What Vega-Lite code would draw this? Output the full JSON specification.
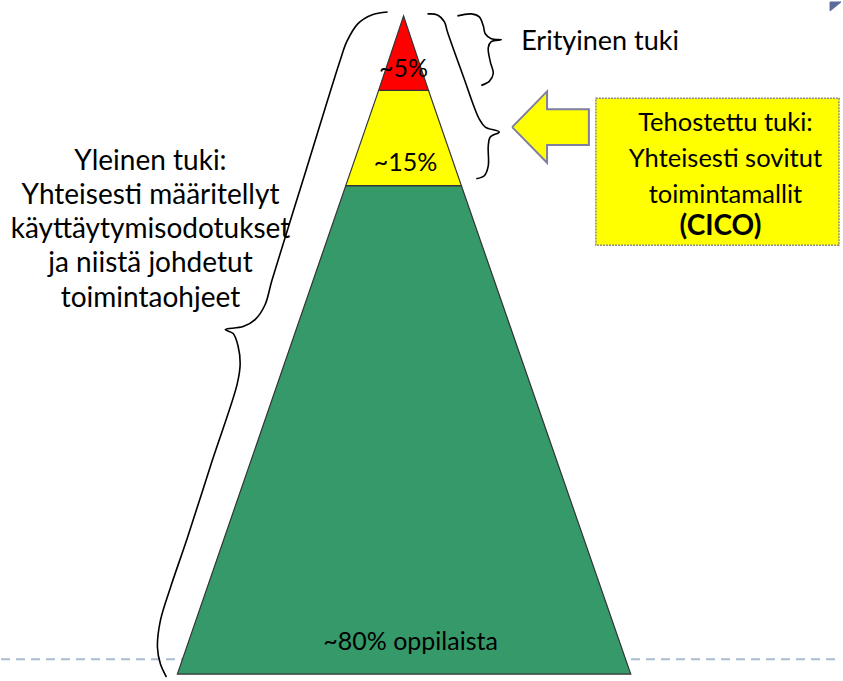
{
  "$schema": "https://vega.github.io/schema/vega-lite/v6.json",
  "width": 843,
  "height": 681,
  "autosize": {"type": "fit", "contains": "padding"},
  "padding": 0,
  "background": "white",
  "config": {"view": {"stroke": null}},
  "datasets": {
    "baseline": [{"y": 662, "x": 0, "x2": 843}],
    "pyramid": [
      {"band": "green", "y": 185, "x": 346, "x2": 462},
      {"band": "green", "y": 677, "x": 177, "x2": 632},
      {"band": "yellow", "y": 89, "x": 379, "x2": 429},
      {"band": "yellow", "y": 185, "x": 346, "x2": 462},
      {"band": "red", "y": 14, "x": 404, "x2": 404},
      {"band": "red", "y": 89, "x": 379, "x2": 429}
    ],
    "braces": [
      {"b": "L", "i": 1, "x": 388, "y": 10},
      {"b": "L", "i": 2, "x": 372, "y": 13},
      {"b": "L", "i": 3, "x": 358, "y": 22},
      {"b": "L", "i": 4, "x": 347, "y": 40},
      {"b": "L", "i": 5, "x": 340, "y": 60},
      {"b": "L", "i": 6, "x": 306, "y": 170},
      {"b": "L", "i": 7, "x": 272, "y": 280},
      {"b": "L", "i": 8, "x": 265, "y": 305},
      {"b": "L", "i": 9, "x": 255, "y": 320},
      {"b": "L", "i": 10, "x": 243, "y": 327},
      {"b": "L", "i": 11, "x": 225, "y": 330},
      {"b": "L", "i": 12, "x": 233, "y": 334},
      {"b": "L", "i": 13, "x": 238, "y": 347},
      {"b": "L", "i": 14, "x": 240, "y": 365},
      {"b": "L", "i": 15, "x": 237, "y": 385},
      {"b": "L", "i": 16, "x": 212, "y": 462},
      {"b": "L", "i": 17, "x": 187, "y": 540},
      {"b": "L", "i": 18, "x": 170, "y": 590},
      {"b": "L", "i": 19, "x": 160, "y": 623},
      {"b": "L", "i": 20, "x": 157, "y": 650},
      {"b": "L", "i": 21, "x": 160, "y": 667},
      {"b": "L", "i": 22, "x": 166, "y": 680},
      {"b": "M", "i": 1, "x": 428, "y": 12},
      {"b": "M", "i": 2, "x": 438, "y": 13},
      {"b": "M", "i": 3, "x": 445, "y": 20},
      {"b": "M", "i": 4, "x": 448, "y": 30},
      {"b": "M", "i": 5, "x": 464, "y": 75},
      {"b": "M", "i": 6, "x": 480, "y": 118},
      {"b": "M", "i": 7, "x": 486, "y": 126},
      {"b": "M", "i": 8, "x": 500, "y": 131},
      {"b": "M", "i": 9, "x": 491, "y": 136},
      {"b": "M", "i": 10, "x": 489, "y": 145},
      {"b": "M", "i": 11, "x": 489, "y": 165},
      {"b": "M", "i": 12, "x": 485, "y": 175},
      {"b": "M", "i": 13, "x": 477, "y": 178},
      {"b": "S", "i": 1, "x": 458, "y": 14},
      {"b": "S", "i": 2, "x": 472, "y": 12},
      {"b": "S", "i": 3, "x": 480, "y": 15},
      {"b": "S", "i": 4, "x": 484, "y": 24},
      {"b": "S", "i": 5, "x": 486, "y": 32},
      {"b": "S", "i": 6, "x": 492, "y": 37},
      {"b": "S", "i": 7, "x": 502, "y": 38},
      {"b": "S", "i": 8, "x": 492, "y": 40},
      {"b": "S", "i": 9, "x": 489, "y": 46},
      {"b": "S", "i": 10, "x": 491, "y": 60},
      {"b": "S", "i": 11, "x": 494, "y": 72},
      {"b": "S", "i": 12, "x": 490, "y": 80},
      {"b": "S", "i": 13, "x": 482, "y": 84}
    ],
    "arrow": [
      {"i": 1, "x": 513, "y": 126},
      {"i": 2, "x": 548, "y": 90},
      {"i": 3, "x": 548, "y": 108},
      {"i": 4, "x": 590, "y": 108},
      {"i": 5, "x": 590, "y": 144},
      {"i": 6, "x": 548, "y": 144},
      {"i": 7, "x": 548, "y": 162},
      {"i": 8, "x": 513, "y": 126}
    ],
    "corner": [
      {"i": 1, "x": 832, "y": 0},
      {"i": 2, "x": 843, "y": 0},
      {"i": 3, "x": 832, "y": 9},
      {"i": 4, "x": 832, "y": 0}
    ],
    "box": [{"x": 597, "x2": 841, "y": 97, "y2": 245}],
    "labelsBox": [
      {"t": "Tehostettu tuki:", "x": 727, "y": 130},
      {"t": "Yhteisesti sovitut", "x": 727, "y": 166},
      {"t": "toimintamallit", "x": 727, "y": 202}
    ],
    "labelsLeftBlock": [
      {"t": "Yleinen tuki:", "x": 150, "y": 169},
      {"t": "Yhteisesti määritellyt", "x": 150, "y": 203},
      {"t": "käyttäytymisodotukset", "x": 150, "y": 238},
      {"t": "ja niistä johdetut", "x": 150, "y": 272},
      {"t": "toimintaohjeet", "x": 150, "y": 307}
    ],
    "labelsPyramid": [
      {"t": "~5%", "x": 404, "y": 76},
      {"t": "~15%", "x": 406, "y": 170},
      {"t": "~80% oppilaista", "x": 411, "y": 653}
    ],
    "labelsBold": [{"t": "(CICO)", "x": 722, "y": 235}],
    "labelsLeft": [{"t": "Erityinen tuki", "x": 522, "y": 48}]
  },
  "layer": [
    {
      "data": {"name": "baseline"},
      "mark": {"type": "rule", "color": "#a9bcd0", "strokeWidth": 2, "strokeDash": [9, 6]},
      "encoding": {
        "x": {"field": "x", "type": "quantitative", "scale": {"domain": [0, 843], "nice": false, "zero": false}, "axis": null},
        "x2": {"field": "x2"},
        "y": {"field": "y", "type": "quantitative", "scale": {"domain": [0, 681], "nice": false, "zero": false, "reverse": true}, "axis": null}
      }
    },
    {
      "data": {"name": "pyramid"},
      "mark": {"type": "area", "orient": "horizontal", "stroke": "#333333", "strokeWidth": 1.2, "opacity": 1, "fillOpacity": 1},
      "encoding": {
        "y": {"field": "y", "type": "quantitative", "axis": null},
        "x": {"field": "x", "type": "quantitative", "stack": null, "axis": null},
        "x2": {"field": "x2"},
        "fill": {"field": "band", "type": "nominal", "scale": {"domain": ["red", "yellow", "green"], "range": ["#ff0000", "#ffff00", "#35996a"]}, "legend": null},
        "detail": {"field": "band"}
      }
    },
    {
      "data": {"name": "braces"},
      "mark": {"type": "line", "color": "#000000", "strokeWidth": 1.6, "interpolate": "catmull-rom"},
      "encoding": {
        "x": {"field": "x", "type": "quantitative", "axis": null},
        "y": {"field": "y", "type": "quantitative", "axis": null},
        "detail": {"field": "b"},
        "order": {"field": "i", "type": "quantitative"}
      }
    },
    {
      "data": {"name": "arrow"},
      "mark": {"type": "line", "fill": "#ffff00", "stroke": "#7f80a0", "strokeWidth": 2, "strokeJoin": "miter"},
      "encoding": {
        "x": {"field": "x", "type": "quantitative", "axis": null},
        "y": {"field": "y", "type": "quantitative", "axis": null},
        "order": {"field": "i", "type": "quantitative"}
      }
    },
    {
      "data": {"name": "corner"},
      "mark": {"type": "line", "fill": "#5a6a9c", "stroke": "#5a6a9c", "strokeWidth": 1},
      "encoding": {
        "x": {"field": "x", "type": "quantitative", "axis": null},
        "y": {"field": "y", "type": "quantitative", "axis": null},
        "order": {"field": "i", "type": "quantitative"}
      }
    },
    {
      "data": {"name": "box"},
      "mark": {"type": "rect", "fill": "#ffff00", "stroke": "#8a8a8a", "strokeWidth": 1.5, "strokeDash": [2, 1]},
      "encoding": {
        "x": {"field": "x", "type": "quantitative", "axis": null},
        "x2": {"field": "x2"},
        "y": {"field": "y", "type": "quantitative", "axis": null},
        "y2": {"field": "y2"}
      }
    },
    {
      "data": {"name": "labelsBox"},
      "mark": {"type": "text", "font": "Lato", "fontSize": 25.5, "align": "center", "baseline": "alphabetic", "color": "#000000"},
      "encoding": {
        "x": {"field": "x", "type": "quantitative", "axis": null},
        "y": {"field": "y", "type": "quantitative", "axis": null},
        "text": {"field": "t"}
      }
    },
    {
      "data": {"name": "labelsLeftBlock"},
      "mark": {"type": "text", "font": "Lato", "fontSize": 28, "align": "center", "baseline": "alphabetic", "color": "#000000"},
      "encoding": {
        "x": {"field": "x", "type": "quantitative", "axis": null},
        "y": {"field": "y", "type": "quantitative", "axis": null},
        "text": {"field": "t"}
      }
    },
    {
      "data": {"name": "labelsPyramid"},
      "mark": {"type": "text", "font": "Lato", "fontSize": 25, "align": "center", "baseline": "alphabetic", "color": "#000000"},
      "encoding": {
        "x": {"field": "x", "type": "quantitative", "axis": null},
        "y": {"field": "y", "type": "quantitative", "axis": null},
        "text": {"field": "t"}
      }
    },
    {
      "data": {"name": "labelsBold"},
      "mark": {"type": "text", "font": "Lato", "fontSize": 28, "fontWeight": "bold", "align": "center", "baseline": "alphabetic", "color": "#000000"},
      "encoding": {
        "x": {"field": "x", "type": "quantitative", "axis": null},
        "y": {"field": "y", "type": "quantitative", "axis": null},
        "text": {"field": "t"}
      }
    },
    {
      "data": {"name": "labelsLeft"},
      "mark": {"type": "text", "font": "Lato", "fontSize": 27, "align": "left", "baseline": "alphabetic", "color": "#000000"},
      "encoding": {
        "x": {"field": "x", "type": "quantitative", "axis": null},
        "y": {"field": "y", "type": "quantitative", "axis": null},
        "text": {"field": "t"}
      }
    }
  ]
}
